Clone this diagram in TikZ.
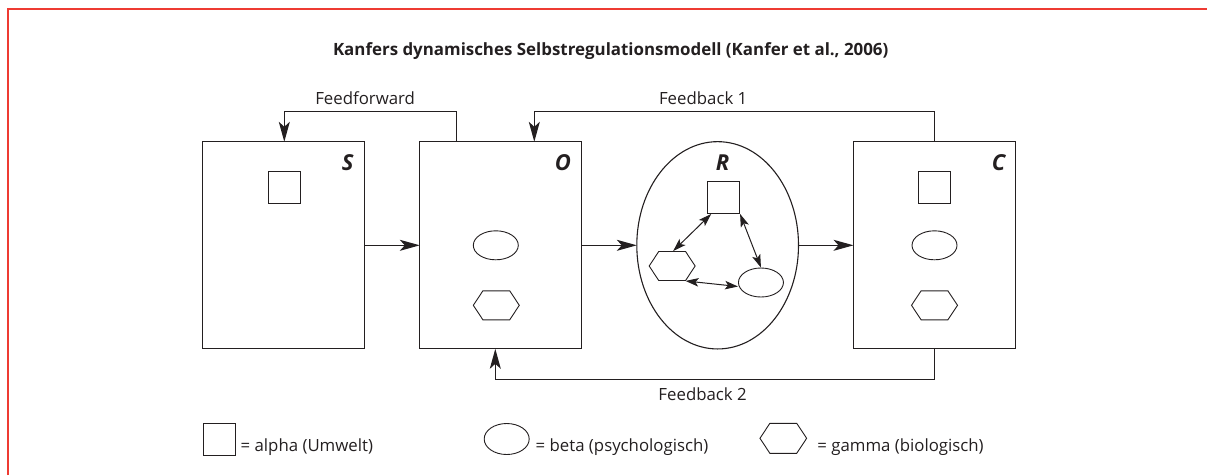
\documentclass[tikz,border=0pt]{standalone}
\usepackage{fontspec}
\setmainfont{Open Sans}
\usetikzlibrary{arrows.meta,positioning,shapes.geometric,shapes.symbols}
\definecolor{Ink}{HTML}{231F20}
\definecolor{FrameRed}{HTML}{EE3B33}
\tikzset{
  stage/.style={draw=Ink, line width=1.2pt, minimum width=162pt, minimum height=207pt, inner sep=0pt, outer sep=0pt},
  resp/.style={ellipse, draw=Ink, line width=1.1pt, minimum width=161.7pt, minimum height=207.3pt, inner sep=0pt, outer sep=0pt},
  alphabox/.style={draw=Ink, line width=0.9pt, minimum size=32pt, inner sep=0pt},
  betaell/.style={ellipse, draw=Ink, line width=0.9pt, minimum width=45pt, minimum height=29pt, inner sep=0pt},
  gammahex/.style={signal, signal to=east and west, signal pointer angle=113, draw=Ink, line width=0.9pt, minimum width=46pt, minimum height=29pt, inner sep=0pt},
  stagelbl/.style={font=\fontsize{22}{24}\selectfont\bfseries\itshape, text=Ink},
  txt/.style={font=\fontsize{16.8}{19}\selectfont, text=Ink},
  headline/.style={font=\fontsize{16.9}{20}\selectfont\bfseries, text=Ink, inner sep=0pt},
  arr/.style={-{Stealth[length=20pt,width=11pt,inset=5pt]}, line width=1.2pt, draw=Ink},
  dbl/.style={{Stealth[length=13pt,width=8.5pt,inset=3pt]}-{Stealth[length=13pt,width=8.5pt,inset=3pt]}, line width=1pt, draw=Ink}
}
\begin{document}
\begin{tikzpicture}[x=1pt, y=-1pt]
\useasboundingbox (0,0) rectangle (1207,475);
\draw[FrameRed, line width=2pt] (7.5,475) -- (7.5,8.5) -- (1207,8.5);

\node[headline, anchor=base] (head) at (610.7,55.7) {Kanfers dynamisches Selbstregulationsmodell (Kanfer et al., 2006)};

% die vier Stufen
\node[stage] (S) at (283.8,245.3) {};
\node[stage, right=55pt of S] (O) {};
\node[resp, right=55pt of O] (R) {};
\node[stage, right=55pt of R] (C) {};

\node[stagelbl] (Slbl) at ([xshift=-17pt,yshift=-21.3pt]S.north east) {S};
\node[stagelbl] (Olbl) at ([xshift=-19pt,yshift=-21.3pt]O.north east) {O};
\node[stagelbl] (Rlbl) at ([xshift=4.8pt,yshift=-21.3pt]R.north) {R};
\node[stagelbl] (Clbl) at ([xshift=-17pt,yshift=-21.3pt]C.north east) {C};

% Elemente
\node[alphabox] (Ssq) at ([xshift=0.5pt,yshift=57.8pt]S.center) {};
\node[betaell] (Oell) at ([xshift=-5pt]O.center) {};
\node[gammahex] (Ohex) at ([xshift=-4.5pt,yshift=-60pt]O.center) {};
\node[alphabox] (Rsq) at ([xshift=6pt,yshift=47.8pt]R.center) {};
\node[gammahex] (Rhex) at ([xshift=-45.5pt,yshift=-20.7pt]R.center) {};
\node[betaell] (Rell) at ([xshift=43.3pt,yshift=-37.2pt]R.center) {};
\node[alphabox] (Csq) at ([yshift=58pt]C.center) {};
\node[betaell] (Cell) at (C.center) {};
\node[gammahex] (Chex) at ([yshift=-60pt]C.center) {};

\draw[arr] (S) -- (O);
\draw[arr] (O) -- (R);
\draw[arr] (R) -- (C);
\draw[arr] ([xshift=-44.5pt]O.north) -- ++(0,-30.7) -| node[txt, pos=0.265, above=2.5pt] {Feedforward} ([xshift=0.5pt]S.north);
\draw[arr] (C.north) -- ++(0,-30.7) -| node[txt, pos=0.289, above=2.5pt] {Feedback 1} ([xshift=33.5pt]O.north);
\draw[arr] (C.south) -- ++(0,30.3) -| node[txt, pos=0.264, below=4.5pt] {Feedback 2} ([xshift=-5.5pt]O.south);

\draw[dbl] ([xshift=4pt]Rsq.south west) -- ([xshift=1pt]Rhex.north);
\draw[dbl] (Rsq.south east) -- (Rell.north);
\draw[dbl] ([xshift=13.4pt]Rhex.south) -- ([yshift=-4pt]Rell.west);

% Legende
\node[alphabox] (keysq) at (219,439) {};
\node[txt, anchor=base west, inner sep=0pt] (keysqtxt) at ([xshift=5pt,yshift=-12pt]keysq.east) {= alpha (Umwelt)};
\node[betaell, minimum height=31pt] (keyell) at (506.7,439) {};
\node[txt, anchor=base west, inner sep=0pt] (keyelltxt) at ([xshift=5.8pt,yshift=-12pt]keyell.east) {= beta (psychologisch)};
\node[gammahex, minimum width=46.7pt, minimum height=30pt] (keyhex) at (783.3,438.3) {};
\node[txt, anchor=base west, inner sep=0pt] (keyhextxt) at ([xshift=10pt,yshift=-12.7pt]keyhex.east) {= gamma (biologisch)};
\end{tikzpicture}
\end{document}
